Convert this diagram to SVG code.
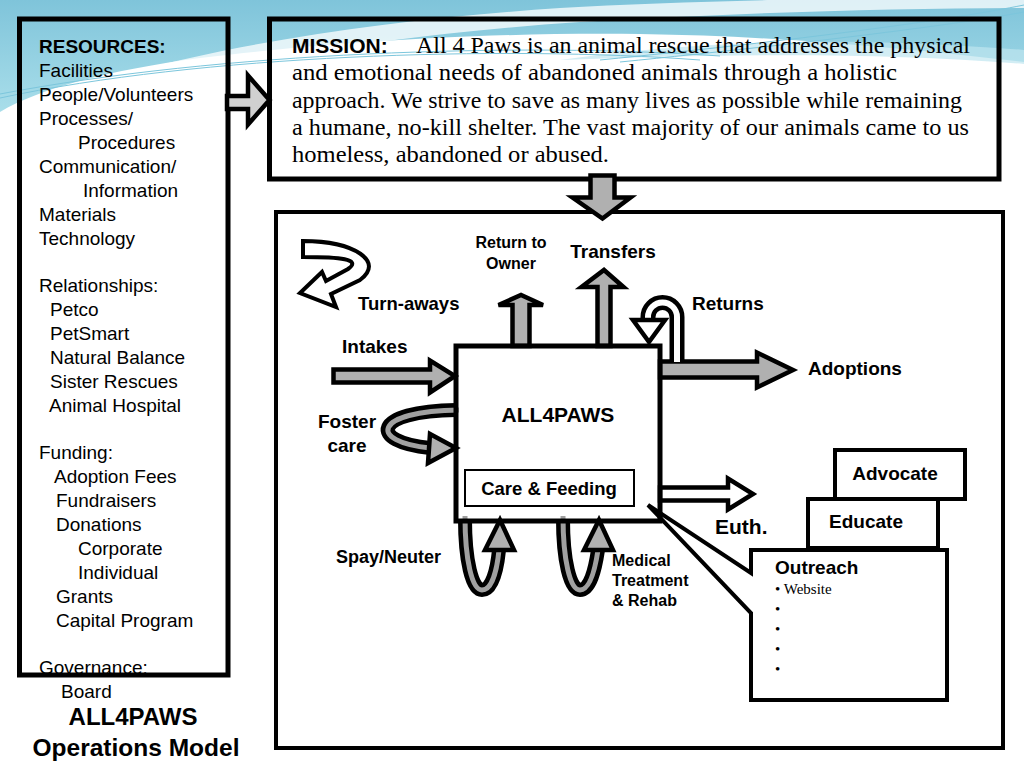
<svg xmlns="http://www.w3.org/2000/svg" width="1024" height="768" viewBox="0 0 1024 768">
<defs>
<linearGradient id="sky" x1="0" y1="0" x2="0" y2="1">
<stop offset="0" stop-color="#7fc4da"/>
<stop offset="1" stop-color="#a9deea"/>
</linearGradient>
<style>
.box{fill:none;stroke:#000;stroke-width:5}
.thin{fill:none;stroke:#000;stroke-width:4}
.garrow{fill:#b0b0b0;stroke:#000;stroke-width:4.5;stroke-linejoin:miter}
.warrow{fill:#fff;stroke:#000;stroke-width:4.5;stroke-linejoin:miter}
.lbl{font-family:"Liberation Sans",Arial,sans-serif;font-weight:bold;fill:#000}
.res{font-family:"Liberation Sans",Arial,sans-serif;font-size:19px;fill:#000}
.mis{font-family:"Liberation Serif","Times New Roman",serif;font-size:22.5px;fill:#000}
.bul{font-family:"Liberation Serif","Times New Roman",serif;font-size:15px;fill:#000}
.wave{fill:none;stroke:#7cc6dc;stroke-width:1}
</style>
</defs>
<rect width="1024" height="768" fill="#fff"/>
<g id="background">
<path d="M0 0 H1024 V62 C900 48 780 36 640 34 C450 32 300 46 200 58 C110 70 40 88 0 112 Z" fill="url(#sky)"/>
<path d="M20 110 C160 50 380 20 560 8 C700 0 900 -4 1024 0 L1024 8 C880 8 720 14 580 22 C400 34 200 64 20 110 Z" fill="#fff" opacity="0.75"/>
<path d="M560 60 C700 40 850 36 1024 50 L1024 64 C880 52 720 54 560 60 Z" fill="#bfe6ef" opacity="0.7"/>
<path class="wave" d="M0 98 C200 55 500 45 700 60"/>
<path class="wave" d="M0 94 C220 52 520 42 720 56"/>
<path class="wave" d="M600 60 C800 40 950 20 1024 5"/>
<path class="wave" d="M620 62 C820 42 960 24 1024 12"/>
</g>
<g id="resources">
<rect class="box" x="19.5" y="19" width="208.5" height="656"/>
<text class="res"><tspan x="39" y="53" font-weight="bold">RESOURCES:</tspan>
<tspan x="39" y="77">Facilities</tspan>
<tspan x="39" y="101">People/Volunteers</tspan>
<tspan x="39" y="125">Processes/</tspan>
<tspan x="78" y="149">Procedures</tspan>
<tspan x="39" y="173">Communication/</tspan>
<tspan x="83" y="197">Information</tspan>
<tspan x="39" y="221">Materials</tspan>
<tspan x="39" y="245">Technology</tspan>
<tspan x="39" y="292">Relationships:</tspan>
<tspan x="50" y="316">Petco</tspan>
<tspan x="50" y="340">PetSmart</tspan>
<tspan x="50" y="364">Natural Balance</tspan>
<tspan x="50" y="388">Sister Rescues</tspan>
<tspan x="49" y="412">Animal Hospital</tspan>
<tspan x="39" y="459">Funding:</tspan>
<tspan x="54" y="483">Adoption Fees</tspan>
<tspan x="56" y="507">Fundraisers</tspan>
<tspan x="56" y="531">Donations</tspan>
<tspan x="78" y="555">Corporate</tspan>
<tspan x="78" y="579">Individual</tspan>
<tspan x="56" y="603">Grants</tspan>
<tspan x="56" y="627">Capital Program</tspan>
<tspan x="39" y="674">Governance:</tspan>
<tspan x="61" y="698">Board</tspan></text>
</g>
<g id="title">
<text class="lbl" font-size="24" x="133" y="725" text-anchor="middle">ALL4PAWS</text>
<text class="lbl" font-size="24.5" x="136" y="756" text-anchor="middle">Operations Model</text>
</g>
<g id="mission">
<rect class="box" x="269.5" y="19" width="729.5" height="160"/>
<text class="lbl" font-size="21" x="292" y="53">MISSION:</text>
<text class="mis" x="416" y="53" textLength="554" lengthAdjust="spacingAndGlyphs">All 4 Paws is an animal rescue that addresses the physical</text>
<text class="mis" x="292" y="80" textLength="605" lengthAdjust="spacingAndGlyphs">and emotional needs of abandoned animals through a holistic</text>
<text class="mis" x="292" y="108" textLength="670" lengthAdjust="spacingAndGlyphs">approach. We strive to save as many lives as possible while remaining</text>
<text class="mis" x="292" y="135" textLength="677" lengthAdjust="spacingAndGlyphs">a humane, no-kill shelter. The vast majority of our animals came to us</text>
<text class="mis" x="292" y="162" textLength="317" lengthAdjust="spacingAndGlyphs">homeless, abandoned or abused.</text>
</g>
<g id="operations">
<rect class="thin" x="276" y="212" width="727" height="536"/>
</g>
<g id="connectors">
<polygon class="garrow" points="227,96 248,96 248,75.5 269.5,100 248,124.5 248,109 227,109" style="fill:#d0d0d0"/>
<polygon class="garrow" points="590.5,175.5 614.5,175.5 614.5,197.5 630.5,197.5 602.5,218.5 572.5,197.5 590.5,197.5"/>
<polygon class="garrow" points="597.5,346 597.5,287 581.5,287 604,270 623.5,287 610.5,287 610.5,346"/>
<polygon class="garrow" points="512.5,346 512.5,305 498.5,305 521,295 543,305 529.5,305 529.5,346"/>
<polygon class="garrow" points="333.5,369.5 430,369.5 430,360.5 455,376 430,392.5 430,382.5 333.5,382.5"/>
<polygon class="garrow" points="660,361.5 757,361.5 757,352.5 793,370 757,387.5 757,377.5 660,377.5"/>
<polygon class="warrow" points="660,487.5 728,487.5 728,478.5 753,494 728,509.5 728,500.5 660,500.5"/>
<path d="M303 241 C355 241 385 262 360 280 L331 294 L336 307 L300 293 L322 272 L326 281 L348 269 C362 259 340 257 303 257 Z" fill="#fff" stroke="#000" stroke-width="4" stroke-linejoin="miter"/>
<path d="M677 360 L677 317 A14.5 14.5 0 0 0 648 317 L648 322" fill="none" stroke="#000" stroke-width="15"/>
<path d="M677 362 L677 317 A14.5 14.5 0 0 0 648 317 L648 322" fill="none" stroke="#fff" stroke-width="6"/>
<polygon class="warrow" points="633,320 665,320 649,342"/>
<path d="M456 410 C372 411 368 442 430 448" fill="none" stroke="#000" stroke-width="14"/>
<path d="M459 410 C372 411 368 442 430 448" fill="none" stroke="#a0a0a0" stroke-width="5"/>
<polygon class="garrow" points="430,434 456,448 428,463"/>
<path d="M465 519 C465 560 472 590 482 590 C492 590 497 570 499 550" fill="none" stroke="#000" stroke-width="14"/>
<path d="M465 516 C465 560 472 590 482 590 C492 590 497 570 499 550" fill="none" stroke="#a0a0a0" stroke-width="5"/>
<polygon class="garrow" points="500,520 485,550 514,550"/>
<path d="M563 519 C563 560 570 590 580 590 C590 590 595 570 598 550" fill="none" stroke="#000" stroke-width="14"/>
<path d="M563 516 C563 560 570 590 580 590 C590 590 595 570 598 550" fill="none" stroke="#a0a0a0" stroke-width="5"/>
<polygon class="garrow" points="599,520 584,550 613,550"/>
</g>
<g id="outreach">
<path d="M751 550 L947 550 L947 700 L751 700 L751 613 L648 505 L751 573 Z" fill="#fff" stroke="#000" stroke-width="4" stroke-linejoin="miter"/>
<text class="lbl" font-size="19" x="775" y="574">Outreach</text>
<text class="bul" x="775" y="594">• Website</text>
<text class="bul" x="775" y="614">•</text>
<text class="bul" x="775" y="634">•</text>
<text class="bul" x="775" y="654">•</text>
<text class="bul" x="775" y="674">•</text>
</g>
<g id="educate">
<rect class="thin" x="808" y="499" width="130" height="49" style="fill:#fff"/>
<text class="lbl" font-size="19" x="866" y="528" text-anchor="middle">Educate</text>
</g>
<g id="advocate">
<rect class="thin" x="835" y="450" width="130" height="49" style="fill:#fff"/>
<text class="lbl" font-size="19" x="895" y="480" text-anchor="middle">Advocate</text>
</g>
<g id="all4paws">
<rect class="box" x="456" y="346" width="204" height="175"/>
<text class="lbl" font-size="21" x="558" y="422" text-anchor="middle">ALL4PAWS</text>
</g>
<g id="care">
<rect x="465" y="470" width="169" height="36" fill="none" stroke="#000" stroke-width="2"/>
<text class="lbl" font-size="18.5" x="549" y="495" text-anchor="middle">Care &amp; Feeding</text>
</g>
<g id="labels">
<text class="lbl" font-size="16" x="511" y="248" text-anchor="middle">Return to</text>
<text class="lbl" font-size="16" x="511" y="269" text-anchor="middle">Owner</text>
<text class="lbl" font-size="19" x="613" y="258" text-anchor="middle">Transfers</text>
<text class="lbl" font-size="18.5" x="358" y="310">Turn-aways</text>
<text class="lbl" font-size="19" x="692" y="310">Returns</text>
<text class="lbl" font-size="19" x="342" y="353">Intakes</text>
<text class="lbl" font-size="19" x="808" y="375">Adoptions</text>
<text class="lbl" font-size="19" x="347" y="428" text-anchor="middle">Foster</text>
<text class="lbl" font-size="19" x="347" y="452" text-anchor="middle">care</text>
<text class="lbl" font-size="21" x="715" y="534">Euth.</text>
<text class="lbl" font-size="18" x="336" y="563">Spay/Neuter</text>
<text class="lbl" font-size="16" x="612" y="566">Medical</text>
<text class="lbl" font-size="16" x="612" y="586">Treatment</text>
<text class="lbl" font-size="16" x="612" y="606">&amp; Rehab</text>
</g>
</svg>
